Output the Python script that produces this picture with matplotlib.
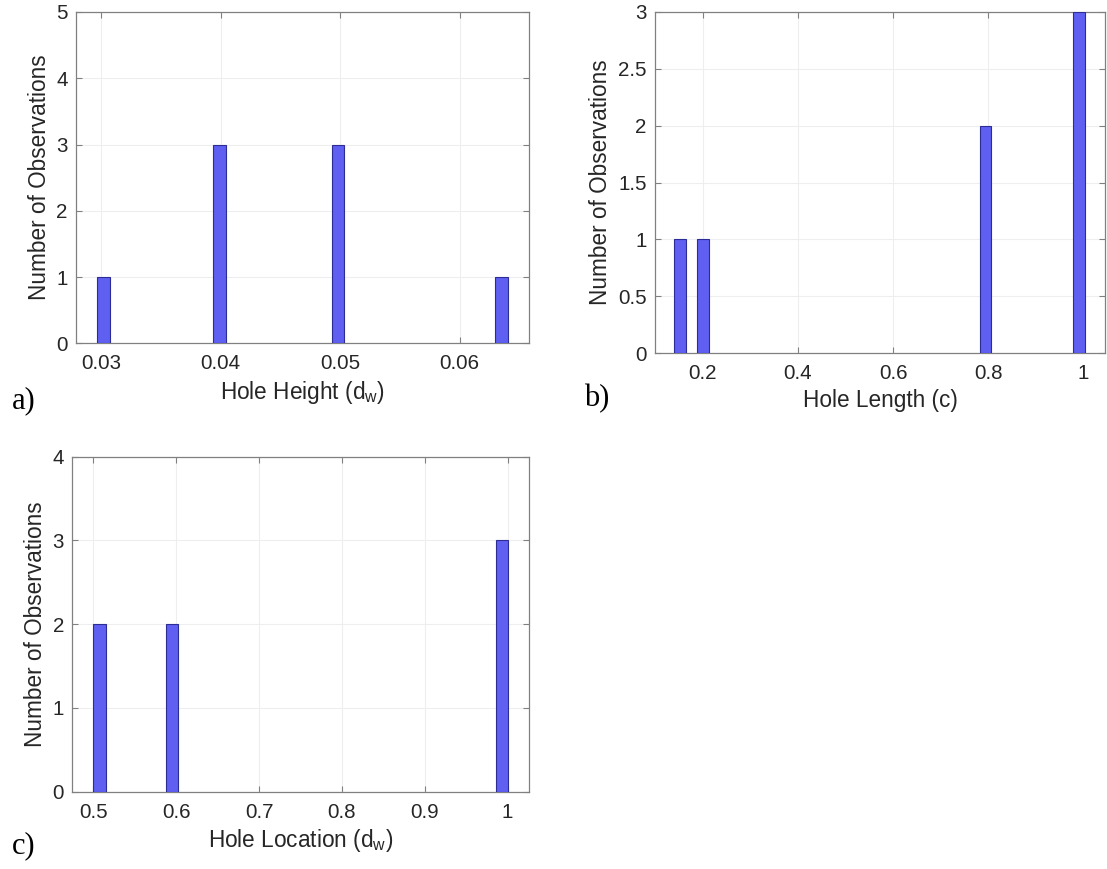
import matplotlib
matplotlib.use("Agg")
import matplotlib.pyplot as plt

plt.rcParams['font.family'] = ['Liberation Sans', 'DejaVu Sans']
plt.rcParams['mathtext.default'] = 'regular'

# a) hole height histogram
height_centers = [0.0302, 0.0399, 0.0498, 0.0635]
height_counts = [1, 3, 3, 1]
height_binwidth = 0.00105
height_xticks = [0.03, 0.04, 0.05, 0.06]
height_xticklabels = ['0.03', '0.04', '0.05', '0.06']
height_yticks = [0, 1, 2, 3, 4, 5]
height_yticklabels = ['0', '1', '2', '3', '4', '5']

# b) hole length histogram
length_centers = [0.153, 0.201, 0.794, 0.991]
length_counts = [1, 1, 2, 3]
length_binwidth = 0.025
length_xticks = [0.2, 0.4, 0.6, 0.8, 1.0]
length_xticklabels = ['0.2', '0.4', '0.6', '0.8', '1']
length_yticks = [0, 0.5, 1, 1.5, 2, 2.5, 3]
length_yticklabels = ['0', '0.5', '1', '1.5', '2', '2.5', '3']

# c) hole location histogram
location_centers = [0.5075, 0.5946, 0.9936]
location_counts = [2, 2, 3]
location_binwidth = 0.015
location_xticks = [0.5, 0.6, 0.7, 0.8, 0.9, 1.0]
location_xticklabels = ['0.5', '0.6', '0.7', '0.8', '0.9', '1']
location_yticks = [0, 1, 2, 3, 4]
location_yticklabels = ['0', '1', '2', '3', '4']

BAR_FACE = '#5f5ff2'
BAR_EDGE = '#2c2c95'
AXIS_COLOR = '#808080'
TEXT_COLOR = '#262626'
GRID_COLOR = '#eeeeee'

fig = plt.figure(figsize=(11.07, 8.69), dpi=100)


def histogram_panel(rect, centers, counts, width, xticks, xticklabels,
                    yticks, yticklabels, xlim, xlabel, tag, tag_xy):
    ax = fig.add_axes(rect)
    ax.bar(centers, counts, width=width, color=BAR_FACE, edgecolor=BAR_EDGE,
           linewidth=0.8, zorder=3)
    ax.set_xlim(*xlim)
    ax.set_ylim(yticks[0], yticks[-1])
    ax.set_xticks(xticks)
    ax.set_xticklabels(xticklabels)
    ax.set_yticks(yticks)
    ax.set_yticklabels(yticklabels)
    ax.grid(True, color=GRID_COLOR, linewidth=0.8, zorder=0)
    ax.set_axisbelow(True)
    for s in ax.spines.values():
        s.set_color(AXIS_COLOR)
        s.set_linewidth(0.9)
    ax.tick_params(direction='in', length=4.5, width=0.8, color=AXIS_COLOR,
                   top=True, right=True, labelsize=14.8, labelcolor=TEXT_COLOR)
    ax.tick_params(axis='x', pad=8)
    ax.tick_params(axis='y', pad=6)
    ax.set_xlabel(xlabel, fontsize=16.3, color=TEXT_COLOR, labelpad=4)
    ax.set_ylabel('Number of Observations', fontsize=16.3, color=TEXT_COLOR,
                  labelpad=4)
    fig.text(tag_xy[0], tag_xy[1], tag, family='Liberation Serif', fontsize=22,
             color='black', ha='left', va='baseline')
    return ax


histogram_panel([0.0687, 0.6049, 0.4092, 0.3813], height_centers, height_counts,
                height_binwidth, height_xticks, height_xticklabels,
                height_yticks, height_yticklabels, (0.0279, 0.0658),
                'Hole Height (d$_{w}$)', 'a)', (0.011, 1 - 408 / 869))

histogram_panel([0.5917, 0.5934, 0.4065, 0.3931], length_centers, length_counts,
                length_binwidth, length_xticks, length_xticklabels,
                length_yticks, length_yticklabels, (0.100, 1.045),
                'Hole Length (c)', 'b)', (584 / 1107, 1 - 406 / 869))

histogram_panel([0.0653, 0.0890, 0.4126, 0.3855], location_centers,
                location_counts, location_binwidth, location_xticks,
                location_xticklabels, location_yticks, location_yticklabels,
                (0.4745, 1.026), 'Hole Location (d$_{w}$)', 'c)',
                (0.011, 1 - 853 / 869))

fig.savefig('out.png', dpi=100, facecolor='white')
